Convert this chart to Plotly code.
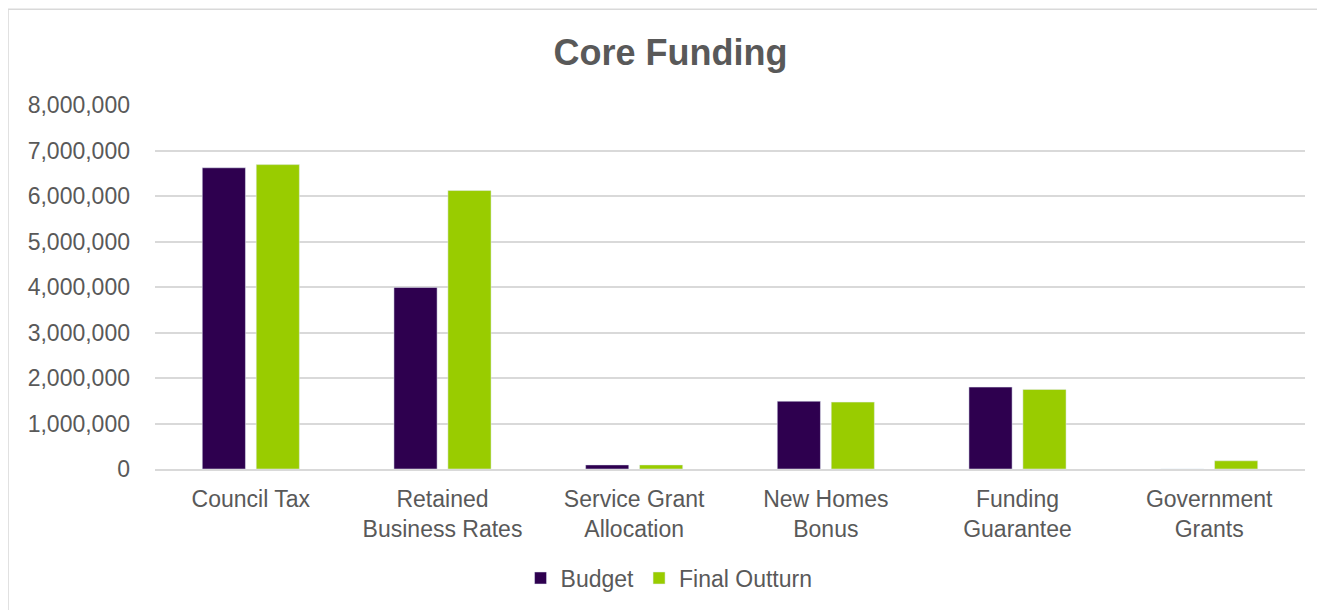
import plotly.graph_objects as go

categories = ["Council Tax", "Retained<br>Business Rates", "Service Grant<br>Allocation",
              "New Homes<br>Bonus", "Funding<br>Guarantee", "Government<br>Grants"]
budget = [6620000, 3990000, 90000, 1490000, 1800000, 0]
final_outturn = [6690000, 6120000, 90000, 1470000, 1750000, 180000]
y_ticks = [0, 1000000, 2000000, 3000000, 4000000, 5000000, 6000000, 7000000, 8000000]

font_color = "#595959"

fig = go.Figure()
fig.add_trace(go.Bar(x=categories, y=budget, name="Budget", marker_color="#2E004F"))
fig.add_trace(go.Bar(x=categories, y=final_outturn, name="Final Outturn", marker_color="#99CC00"))

# chart outer border
fig.add_shape(type="rect", xref="paper", yref="paper", x0=-0.1278, x1=1.2, y0=-1, y1=1.263,
              line=dict(color="#D9D9D9", width=1.5), fillcolor="rgba(0,0,0,0)", layer="below")

fig.update_layout(
    width=1317, height=602,
    margin=dict(l=147, r=20, t=97, b=140),
    paper_bgcolor="white", plot_bgcolor="white",
    font=dict(family="Liberation Sans, Arial, sans-serif", color=font_color, size=23),
    title=dict(text="<b>Core Funding</b>", x=0.503, xanchor="center", y=0.927, yanchor="middle",
               font=dict(size=36, color=font_color)),
    barmode="group", bargap=0.437, bargroupgap=0.2,
    legend=dict(orientation="h", x=0.447, xanchor="center", y=-0.296, yanchor="middle",
                font=dict(size=23, color=font_color), itemwidth=30, tracegroupgap=0),
    showlegend=True,
)
fig.update_xaxes(showline=True, linecolor="#D9D9D9", linewidth=2, ticks="", showgrid=False,
                 tickfont=dict(size=23, color=font_color), ticklabelstandoff=8)
fig.update_yaxes(range=[0, 8000000], tickvals=y_ticks, tickformat=",d", showgrid=True,
                 gridcolor="#D9D9D9", gridwidth=2, zeroline=False, ticks="", showline=False,
                 tickfont=dict(size=23, color=font_color), ticklabelstandoff=24)

fig.write_html("out.html")
